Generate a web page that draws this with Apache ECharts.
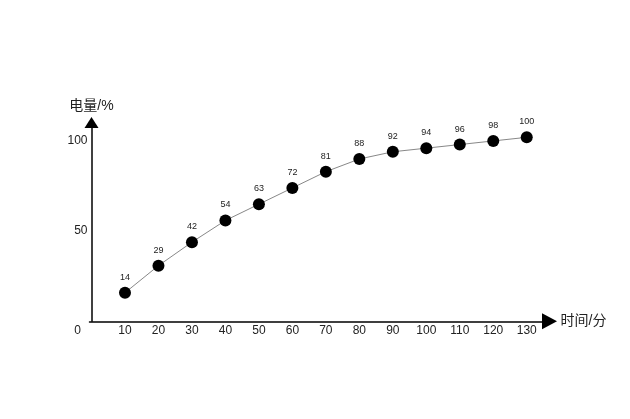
<!DOCTYPE html>
<html>
<head>
<meta charset="utf-8">
<script src="https://cdn.jsdelivr.net/npm/echarts@6/dist/echarts.min.js"></script>
<style>html,body{margin:0;padding:0;background:#fff;}#c{width:630px;height:419px;}</style>
</head>
<body>
<div id="c"></div>
<script>
const times = [10, 20, 30, 40, 50, 60, 70, 80, 90, 100, 110, 120, 130];
const charge = [14, 29, 42, 54, 63, 72, 81, 88, 92, 94, 96, 98, 100];
const xTicks = [0, 10, 20, 30, 40, 50, 60, 70, 80, 90, 100, 110, 120, 130];
const yTicks = [50, 100];
const xName = '时间/分';
const yName = '电量/%';

const chart = echarts.init(document.getElementById('c'));
const font = 'Liberation Sans, Arial, Noto Sans CJK SC, sans-serif';
chart.setOption({
  backgroundColor: '#fff',
  animation: false,
  grid: { left: 89.5, right: 80.5, top: 122.5, bottom: 97.7 },
  xAxis: {
    type: 'value', min: -0.6, max: 136.8,
    name: xName, nameLocation: 'end', nameGap: 11,
    nameTextStyle: { fontSize: 14, color: '#222', fontFamily: font, verticalAlign: 'middle' },
    axisLine: { onZero: false, lineStyle: { color: '#000', width: 1.5 }, symbol: ['none', 'triangle'], symbolSize: [16, 15] },
    axisTick: { show: false },
    splitLine: { show: false },
    axisLabel: {
      customValues: xTicks, margin: 3, fontSize: 12, color: '#222', fontFamily: font,
      formatter: v => v === 0 ? '{z|0}' : String(v),
      rich: { z: { padding: [0, 28, 0, 0], fontSize: 12, color: '#222', fontFamily: font } }
    }
  },
  yAxis: {
    type: 'value', min: -1.8, max: 108.2,
    name: yName, nameLocation: 'end', nameGap: 9,
    nameTextStyle: { fontSize: 14, color: '#222', fontFamily: font },
    axisLine: { show: true, lineStyle: { color: '#000', width: 1.5 }, symbol: ['none', 'triangle'], symbolSize: [14, 11] },
    axisTick: { show: false },
    splitLine: { show: false },
    axisLabel: {
      customValues: yTicks, margin: 2, fontSize: 12, color: '#222', fontFamily: font,
      formatter: v => '{a|' + v + '}',
      rich: { a: { padding: [7, 0, 0, 0], fontSize: 12, color: '#222', fontFamily: font } }
    }
  },
  series: [{
    type: 'line',
    data: times.map((t, i) => [t, charge[i]]),
    symbol: 'circle', symbolSize: 12,
    itemStyle: { color: '#000' },
    lineStyle: { color: '#888', width: 1 },
    label: { show: true, position: 'top', distance: 5, fontSize: 9, color: '#222', fontFamily: font }
  }]
});
</script>
</body>
</html>
